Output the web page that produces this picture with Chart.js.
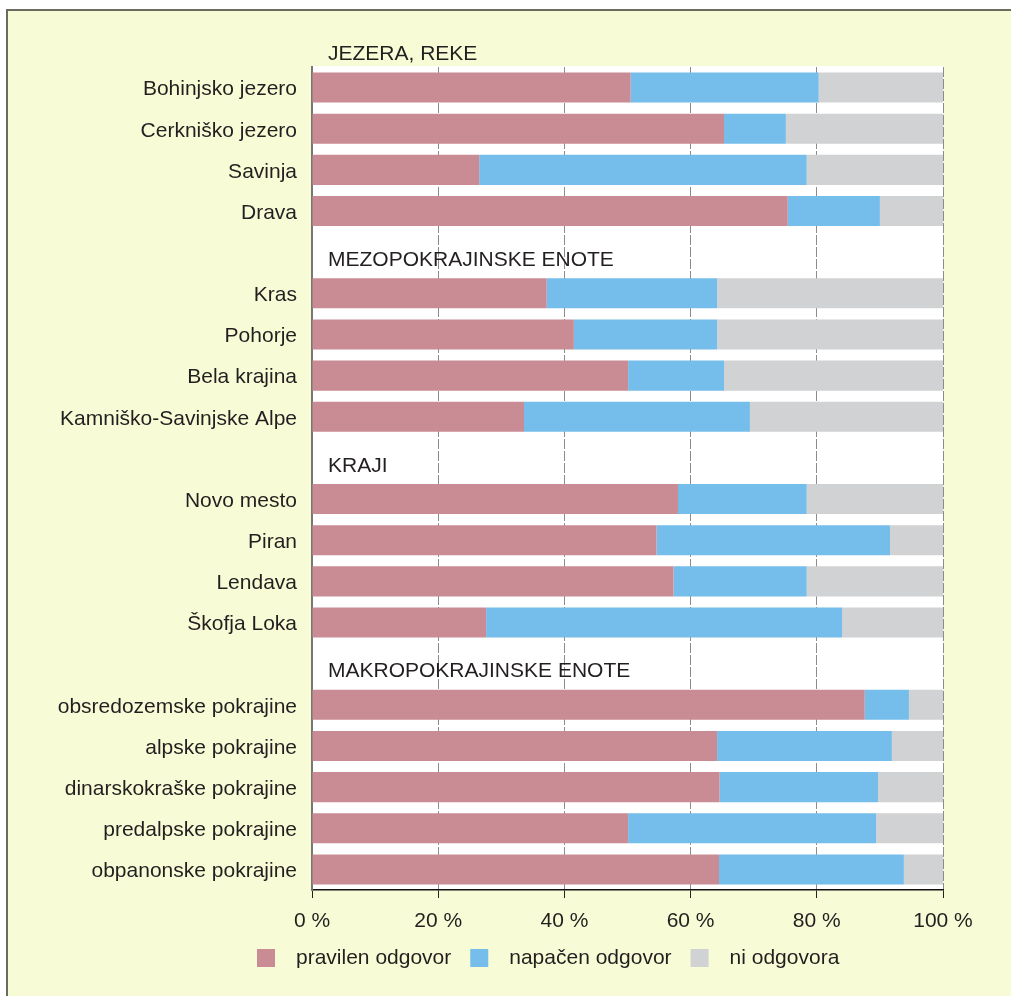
<!DOCTYPE html>
<html>
<head>
<meta charset="utf-8">
<script src="https://cdn.jsdelivr.net/npm/chart.js@4.4.1/dist/chart.umd.min.js"></script>
<style>
  html, body { margin: 0; padding: 0; background: #fff; overflow: hidden; }
  #frame {
    position: absolute; left: 6px; top: 9px; width: 1005px; height: 987px;
    border-top: 2px solid #6b6b5e; border-left: 2px solid #6b6b5e;
    background: #f8fcd6; box-sizing: border-box;
  }
  #wrap { position: absolute; left: 0; top: 0; width: 1011px; height: 996px; }
</style>
</head>
<body>
<div id="frame"></div>
<div id="wrap"><canvas id="mycanvas" width="1011" height="996"></canvas></div>
<script>
// rows of the chart; empty labels are the group heading rows
var labels = [
  'Bohinjsko jezero', 'Cerkniško jezero', 'Savinja', 'Drava',
  '',
  'Kras', 'Pohorje', 'Bela krajina', 'Kamniško-Savinjske Alpe',
  '',
  'Novo mesto', 'Piran', 'Lendava', 'Škofja Loka',
  '',
  'obsredozemske pokrajine', 'alpske pokrajine', 'dinarskokraške pokrajine',
  'predalpske pokrajine', 'obpanonske pokrajine'
];
// group headings and the row each sits on (-1 = just above the plot)
var groupTitles = ['JEZERA, REKE', 'MEZOPOKRAJINSKE ENOTE', 'KRAJI', 'MAKROPOKRAJINSKE ENOTE'];
var groupRows = [-1, 4, 9, 14];

var seriesNames = ['pravilen odgovor', 'napačen odgovor', 'ni odgovora'];
var pravilen = [50.5, 65.3, 26.5, 75.4, null, 37.2, 41.5, 50.1, 33.6, null,
                58.0, 54.6, 57.3, 27.6, null, 87.6, 64.2, 64.6, 50.1, 64.5];
var napacen  = [29.8, 9.8, 51.9, 14.6, null, 27.0, 22.7, 15.2, 35.8, null,
                20.4, 37.0, 21.1, 56.4, null, 7.0, 27.7, 25.1, 39.3, 29.3];
var ni       = [19.7, 24.9, 21.6, 10.0, null, 35.8, 35.8, 34.7, 30.6, null,
                21.6, 8.4, 21.6, 16.0, null, 5.4, 8.1, 10.3, 10.6, 6.2];
var xTicks = [0, 20, 40, 60, 80, 100];

var colors = ['#ca8c94', '#75bdea', '#d1d2d4'];
var FONT = "'Liberation Sans', Arial, sans-serif";
var TEXT = '#231f20';

var whiteArea = {
  id: 'whiteArea',
  beforeDraw: function(chart){
    var a = chart.chartArea, ctx = chart.ctx;
    ctx.save();
    ctx.fillStyle = '#ffffff';
    ctx.fillRect(a.left, a.top - 1, a.right - a.left, a.bottom - a.top + 1);
    ctx.restore();
  }
};

var headings = {
  id: 'headings',
  afterDatasetsDraw: function(chart){
    var ctx = chart.ctx, y = chart.scales.y, a = chart.chartArea;
    ctx.save();
    ctx.font = '21px ' + FONT;
    ctx.fillStyle = TEXT;
    ctx.textAlign = 'left';
    ctx.textBaseline = 'middle';
    for (var i = 0; i < groupTitles.length; i++) {
      ctx.fillText(groupTitles[i], a.left + 16, y.getPixelForValue(groupRows[i]) + 8);
    }
    ctx.restore();
  }
};

var bottomLegend = {
  id: 'bottomLegend',
  afterDraw: function(chart){
    var ctx = chart.ctx;
    ctx.save();
    ctx.font = '21px ' + FONT;
    ctx.textBaseline = 'middle';
    ctx.textAlign = 'left';
    var x = 257, yTop = 949, box = 18;
    chart.data.datasets.forEach(function(ds){
      ctx.fillStyle = ds.backgroundColor;
      ctx.fillRect(x, yTop, box, box);
      ctx.fillStyle = TEXT;
      ctx.fillText(ds.label, x + box + 21, yTop + box / 2);
      x += box + 21 + ctx.measureText(ds.label).width + 19;
    });
    ctx.restore();
  }
};

var datasets = [pravilen, napacen, ni].map(function(d, i){
  return {
    label: seriesNames[i],
    data: d,
    backgroundColor: colors[i],
    borderWidth: 0,
    barPercentage: 0.73,
    categoryPercentage: 1.0
  };
});

var ctx = document.getElementById('mycanvas');
var barGraph = new Chart(ctx, {
  type: 'bar',
  data: { labels: labels, datasets: datasets },
  plugins: [whiteArea, headings, bottomLegend],
  options: {
    indexAxis: 'y',
    responsive: false,
    animation: false,
    layout: { padding: { left: 0, right: 68, top: 67, bottom: 47 } },
    plugins: { legend: { display: false }, tooltip: { enabled: false } },
    scales: {
      x: {
        stacked: true,
        min: 0, max: 100,
        afterBuildTicks: function(scale){
          scale.ticks = xTicks.map(function(v){ return { value: v }; });
        },
        afterFit: function(scale){ scale.height = 59; },
        ticks: {
          color: TEXT,
          font: { family: FONT, size: 21 },
          padding: 11,
          maxRotation: 0,
          callback: function(v){ return v + ' %'; }
        },
        grid: {
          color: function(c){ return c.index === 0 ? 'rgba(0,0,0,0)' : '#8c8c8c'; },
          lineWidth: 1,
          drawTicks: true,
          tickLength: 8,
          tickColor: '#222'
        },
        border: { display: true, color: '#111', width: 1.5, dash: [10, 2] }
      },
      y: {
        stacked: true,
        afterFit: function(scale){ scale.width = 312; },
        ticks: {
          color: TEXT,
          font: { family: FONT, size: 21 },
          padding: 15,
          labelOffset: 2,
          autoSkip: false
        },
        grid: { display: false, drawTicks: false },
        border: { display: true, color: '#777', width: 2 }
      }
    }
  }
});
</script>
</body>
</html>
